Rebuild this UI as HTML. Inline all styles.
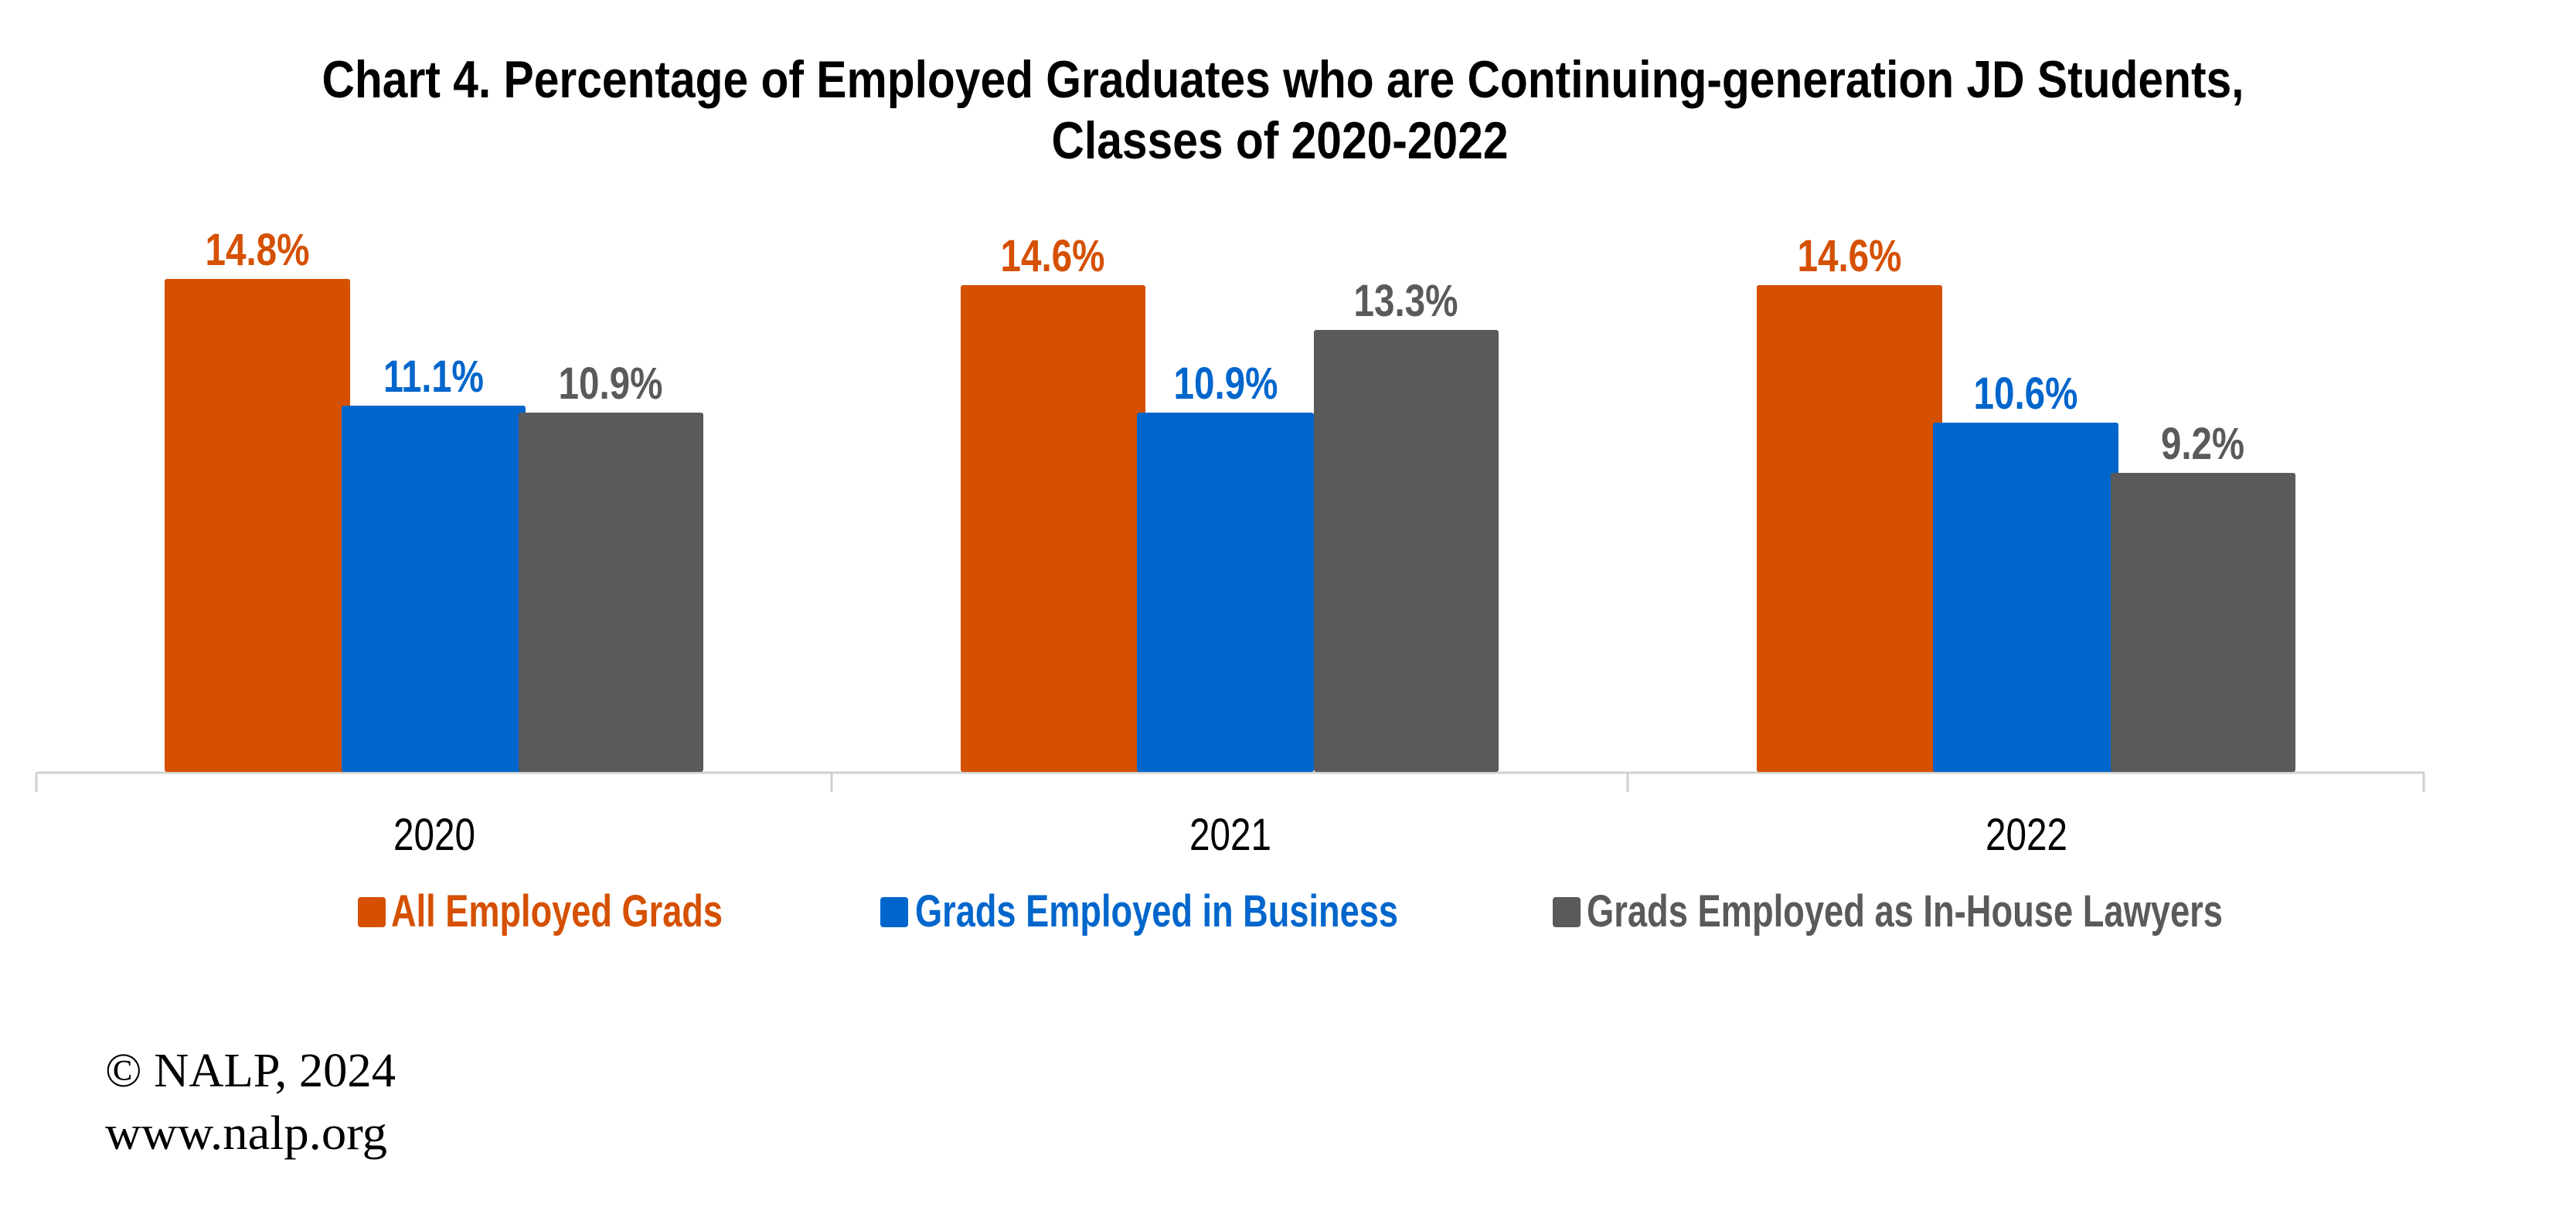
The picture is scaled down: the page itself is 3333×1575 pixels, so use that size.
<!DOCTYPE html>
<html><head><meta charset="utf-8"><style>
html,body{margin:0;padding:0;background:#fff;}
svg{display:block;}
.n{font-family:"Liberation Sans Narrow","Arial Narrow","Liberation Sans",sans-serif;}
.b{font-weight:bold;}
</style></head><body>
<svg width="3333" height="1575" viewBox="0 0 3333 1575" xmlns="http://www.w3.org/2000/svg">
<text class="n b" x="1660" y="126" font-size="68" text-anchor="middle" textLength="2487" lengthAdjust="spacingAndGlyphs" fill="#000">Chart 4. Percentage of Employed Graduates who are Continuing-generation JD Students,</text>
<text class="n b" x="1656" y="205" font-size="68" text-anchor="middle" textLength="591" lengthAdjust="spacingAndGlyphs" fill="#000">Classes of 2020-2022</text>

<!-- axis -->
<line x1="47" y1="1000" x2="3137" y2="1000" stroke="#d0d0d0" stroke-width="3"/>
<g stroke="#d0d0d0" stroke-width="3">
<line x1="47" y1="1000" x2="47" y2="1025"/>
<line x1="1076" y1="1000" x2="1076" y2="1025"/>
<line x1="2106" y1="1000" x2="2106" y2="1025"/>
<line x1="3136" y1="1000" x2="3136" y2="1025"/>
</g>

<g>
<rect x="213" y="361" width="240" height="638" rx="3" fill="#D55000"/>
<rect x="442" y="525" width="238" height="474" rx="3" fill="#0066CC"/>
<rect x="671" y="534" width="239" height="465" rx="3" fill="#5A5A5A"/>

<rect x="1243" y="369" width="239" height="630" rx="3" fill="#D55000"/>
<rect x="1471" y="534" width="229" height="465" rx="3" fill="#0066CC"/>
<rect x="1700" y="427" width="239" height="572" rx="3" fill="#5A5A5A"/>

<rect x="2273" y="369" width="240" height="630" rx="3" fill="#D55000"/>
<rect x="2501" y="547" width="240" height="452" rx="3" fill="#0066CC"/>
<rect x="2731" y="612" width="239" height="387" rx="3" fill="#5A5A5A"/>
</g>

<g class="n b" font-size="58" text-anchor="middle">
<text x="333" y="343" fill="#D55000" textLength="135" lengthAdjust="spacingAndGlyphs">14.8%</text>
<text x="561" y="507" fill="#0066CC" textLength="130" lengthAdjust="spacingAndGlyphs">11.1%</text>
<text x="790" y="516" fill="#5A5A5A" textLength="135" lengthAdjust="spacingAndGlyphs">10.9%</text>

<text x="1362" y="351" fill="#D55000" textLength="135" lengthAdjust="spacingAndGlyphs">14.6%</text>
<text x="1586" y="516" fill="#0066CC" textLength="135" lengthAdjust="spacingAndGlyphs">10.9%</text>
<text x="1819" y="409" fill="#5A5A5A" textLength="135" lengthAdjust="spacingAndGlyphs">13.3%</text>

<text x="2393" y="351" fill="#D55000" textLength="135" lengthAdjust="spacingAndGlyphs">14.6%</text>
<text x="2621" y="529" fill="#0066CC" textLength="135" lengthAdjust="spacingAndGlyphs">10.6%</text>
<text x="2850" y="594" fill="#5A5A5A" textLength="108" lengthAdjust="spacingAndGlyphs">9.2%</text>
</g>

<g class="n" font-size="58" text-anchor="middle" fill="#000">
<text x="562" y="1100" textLength="106" lengthAdjust="spacingAndGlyphs">2020</text>
<text x="1592" y="1100" textLength="106" lengthAdjust="spacingAndGlyphs">2021</text>
<text x="2622" y="1100" textLength="106" lengthAdjust="spacingAndGlyphs">2022</text>
</g>

<rect x="463" y="1161" width="36" height="39" rx="4" fill="#D55000"/>
<text class="n b" x="506" y="1199" font-size="58" fill="#D55000" textLength="429" lengthAdjust="spacingAndGlyphs">All Employed Grads</text>
<rect x="1139" y="1161" width="36" height="39" rx="4" fill="#0066CC"/>
<text class="n b" x="1184" y="1199" font-size="58" fill="#0066CC" textLength="625" lengthAdjust="spacingAndGlyphs">Grads Employed in Business</text>
<rect x="2009" y="1161" width="36" height="39" rx="4" fill="#5A5A5A"/>
<text class="n b" x="2053" y="1199" font-size="58" fill="#5A5A5A" textLength="823" lengthAdjust="spacingAndGlyphs">Grads Employed as In-House Lawyers</text>

<text x="136" y="1406" font-family="Liberation Serif, serif" font-size="62" fill="#000" textLength="376" lengthAdjust="spacingAndGlyphs">© NALP, 2024</text>
<text x="136" y="1487" font-family="Liberation Serif, serif" font-size="62" fill="#000" textLength="365" lengthAdjust="spacingAndGlyphs">www.nalp.org</text>
</svg>
</body></html>
